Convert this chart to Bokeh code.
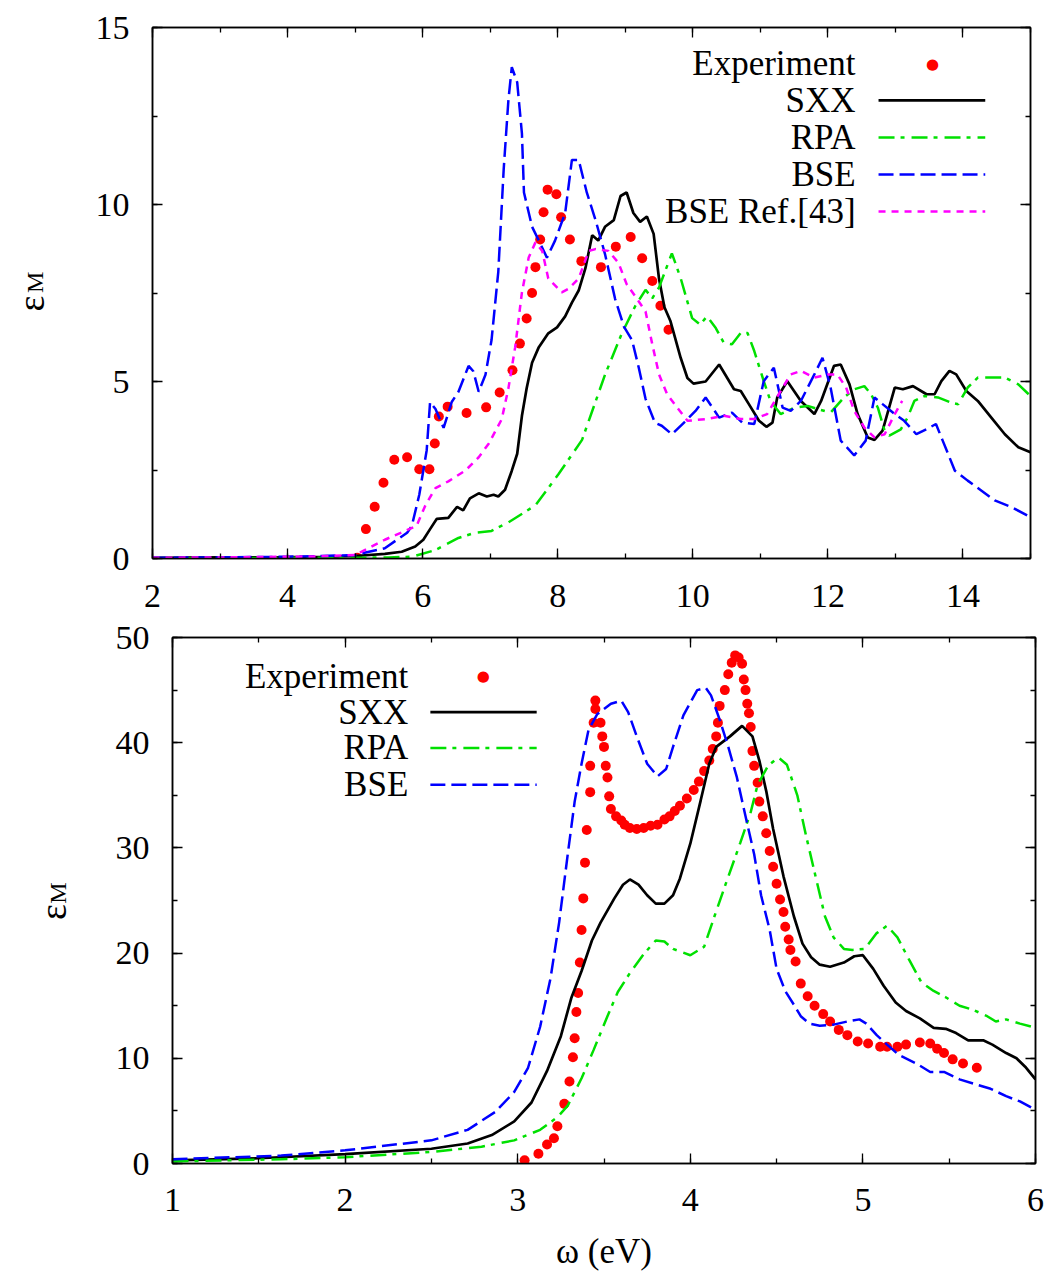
import math
from bokeh.plotting import figure
from bokeh.models import Label, Arrow, LinearAxis, SingleIntervalTicker, Range1d, CustomJSTickFormatter
from bokeh.embed import file_html
from bokeh.resources import INLINE

# ---------------- top panel data ----------------
top_exp_x = [5.03, 5.16, 5.29, 5.42, 5.58, 5.77, 5.95, 6.10, 6.18, 6.24, 6.37, 6.65, 6.94, 7.14, 7.33,
             7.44, 7.54, 7.62, 7.67, 7.74, 7.79, 7.85, 7.98, 8.05, 8.18, 8.35, 8.64, 8.86, 9.08, 9.25,
             9.40, 9.52, 9.64]
top_exp_y = [0.02, 0.83, 1.46, 2.14, 2.79, 2.86, 2.52, 2.52, 3.25, 4.01, 4.29, 4.11, 4.27, 4.69, 5.32,
             6.07, 6.78, 7.50, 8.23, 9.01, 9.78, 10.42, 10.29, 9.64, 9.01, 8.40, 8.23, 8.81, 9.08, 8.48,
             7.84, 7.14, 6.46]

top_sxx_x = [2.0, 3.0, 4.0, 4.5, 5.0, 5.44, 5.69, 5.89, 6.01, 6.11, 6.21, 6.38, 6.51, 6.6, 6.7, 6.83,
             6.95, 7.05, 7.12, 7.22, 7.32, 7.4, 7.47, 7.54, 7.62, 7.72, 7.86, 7.99, 8.11, 8.21, 8.31,
             8.41, 8.51, 8.6, 8.7, 8.83, 8.93, 9.02, 9.12, 9.22, 9.32, 9.42, 9.5, 9.58, 9.67, 9.82,
             9.92, 10.01, 10.19, 10.39, 10.61, 10.71, 10.83, 10.98, 11.09, 11.18, 11.25, 11.4, 11.6,
             11.8, 11.9, 12.09, 12.19, 12.32, 12.44, 12.59, 12.69, 12.81, 12.99, 13.11, 13.26, 13.46,
             13.58, 13.68, 13.8, 13.9, 14.05, 14.22, 14.42, 14.62, 14.82, 15.0]
top_sxx_y = [0.02, 0.03, 0.04, 0.05, 0.07, 0.13, 0.19, 0.34, 0.53, 0.83, 1.12, 1.15, 1.46, 1.36, 1.7,
             1.84, 1.75, 1.8, 1.75, 1.94, 2.48, 2.96, 4.03, 4.81, 5.53, 5.97, 6.36, 6.53, 6.84, 7.23,
             7.57, 8.2, 9.13, 8.98, 9.37, 9.56, 10.24, 10.34, 9.76, 9.51, 9.66, 9.17, 7.9, 7.1, 6.7,
             5.67, 5.1, 4.94, 5.0, 5.48, 4.78, 4.73, 4.36, 3.89, 3.72, 3.84, 4.55, 5.01, 4.45, 4.08,
             4.45, 5.44, 5.48, 4.92, 4.08, 3.42, 3.35, 3.61, 4.83, 4.78, 4.87, 4.64, 4.64, 5.01, 5.3,
             5.2, 4.73, 4.45, 3.98, 3.51, 3.14, 3.0]

top_rpa_x = [2.0, 3.0, 4.0, 5.0, 5.5, 5.84, 6.19, 6.53, 6.78, 7.02, 7.27, 7.67, 8.01, 8.36, 8.7, 8.95,
             9.15, 9.3, 9.4, 9.5, 9.69, 9.82, 9.99, 10.11, 10.21, 10.34, 10.46, 10.58, 10.71, 10.81,
             10.91, 11.05, 11.15, 11.3, 11.5, 11.7, 11.85, 12.04, 12.24, 12.39, 12.54, 12.64, 12.74,
             12.84, 12.91, 13.08, 13.18, 13.28, 13.43, 13.63, 13.83, 13.93, 14.07, 14.22, 14.42,
             14.62, 14.82, 15.0]
top_rpa_y = [0.01, 0.01, 0.02, 0.02, 0.03, 0.05, 0.24, 0.58, 0.73, 0.78, 1.02, 1.5, 2.38, 3.35, 5.19,
             6.36, 7.14, 7.59, 7.35, 7.66, 8.62, 7.92, 6.79, 6.61, 6.84, 6.51, 6.09, 6.05, 6.37, 6.37,
             5.86, 5.01, 4.45, 4.08, 4.26, 4.31, 4.22, 4.12, 4.55, 4.78, 4.87, 4.64, 4.26, 3.61, 3.47,
             3.65, 3.98, 4.45, 4.59, 4.55, 4.4, 4.36, 4.83, 5.11, 5.11, 5.11, 4.92, 4.59]

top_bse_x = [2.0, 3.0, 4.0, 4.5, 5.0, 5.44, 5.77, 5.84, 5.95, 6.06, 6.11, 6.19, 6.31, 6.43, 6.53, 6.68,
             6.75, 6.83, 6.93, 7.02, 7.12, 7.2, 7.27, 7.32, 7.4, 7.47, 7.5, 7.62, 7.72, 7.84, 7.96,
             8.11, 8.21, 8.31, 8.43, 8.56, 8.7, 8.85, 8.98, 9.1, 9.2, 9.3, 9.44, 9.54, 9.69, 9.87,
             10.04, 10.19, 10.39, 10.58, 10.73, 10.91, 11.05, 11.2, 11.33, 11.45, 11.6, 11.8, 11.92,
             12.04, 12.19, 12.39, 12.56, 12.69, 12.81, 12.99, 13.13, 13.31, 13.46, 13.6, 13.7, 13.88,
             14.07, 14.27, 14.47, 14.72, 15.0]
top_bse_y = [0.02, 0.03, 0.05, 0.07, 0.1, 0.29, 0.73, 0.92, 1.8, 3.06, 4.42, 4.22, 3.69, 4.42, 4.71,
             5.44, 5.29, 4.71, 5.19, 6.17, 8.1, 11.0, 12.96, 13.88, 13.45, 12.0, 10.34, 9.37, 8.98,
             8.5, 8.98, 9.76, 11.26, 11.26, 10.34, 9.56, 8.6, 7.33, 6.55, 6.17, 5.39, 4.51, 3.83,
             3.75, 3.51, 3.84, 4.17, 4.55, 3.98, 4.12, 3.84, 3.8, 5.01, 5.39, 4.26, 4.17, 4.45, 5.2,
             5.67, 4.83, 3.33, 2.91, 3.33, 4.55, 4.36, 4.08, 3.89, 3.51, 3.65, 3.8, 3.33, 2.48, 2.2,
             1.92, 1.64, 1.45, 1.17]

top_ref_x = [2.0, 3.0, 4.0, 4.5, 5.0, 5.44, 5.74, 5.91, 6.04, 6.19, 6.38, 6.63, 6.83, 6.98, 7.17, 7.27,
             7.37, 7.47, 7.57, 7.67, 7.77, 7.86, 8.06, 8.16, 8.31, 8.46, 8.56, 8.75, 8.9, 9.02, 9.15,
             9.3, 9.4, 9.5, 9.62, 9.77, 9.92, 10.21, 10.46, 10.71, 10.91, 11.1, 11.3, 11.45, 11.6,
             11.8, 12.0, 12.14, 12.27, 12.39, 12.54, 12.69, 12.84, 12.99, 13.1]
top_ref_y = [0.02, 0.03, 0.05, 0.06, 0.1, 0.53, 0.78, 0.92, 1.5, 1.99, 2.18, 2.48, 2.86, 3.25, 3.93,
             4.81, 5.97, 7.52, 8.5, 8.93, 8.69, 7.91, 7.52, 7.62, 7.91, 8.69, 8.74, 8.69, 8.35, 7.75,
             7.4, 6.98, 6.05, 5.2, 4.64, 4.26, 3.89, 3.94, 4.03, 3.94, 3.94, 4.08, 4.73, 5.2, 5.3,
             5.11, 5.2, 5.2, 4.83, 4.17, 3.7, 3.42, 3.51, 4.08, 4.45]

# ---------------- bottom panel data ----------------
bot_exp_x = [3.04, 3.12, 3.17, 3.21, 3.23, 3.27, 3.30, 3.32, 3.33, 3.34, 3.35, 3.36, 3.37, 3.38, 3.39,
             3.40, 3.42, 3.42, 3.44, 3.45, 3.45, 3.48, 3.49, 3.50, 3.51, 3.52, 3.53, 3.54, 3.57, 3.60,
             3.62, 3.65, 3.69, 3.73, 3.77, 3.81, 3.85, 3.88, 3.91, 3.94, 3.98, 4.02, 4.05, 4.08, 4.11,
             4.13, 4.15, 4.16, 4.17, 4.20, 4.22, 4.24, 4.26, 4.28, 4.30, 4.31, 4.32, 4.33, 4.34, 4.35,
             4.36, 4.37, 4.39, 4.40, 4.42, 4.44, 4.46, 4.48, 4.50, 4.52, 4.54, 4.55, 4.57, 4.58, 4.61,
             4.64, 4.68, 4.72, 4.77, 4.81, 4.86, 4.91, 4.97, 5.03, 5.10, 5.14, 5.20, 5.25, 5.33, 5.39,
             5.43, 5.47, 5.52, 5.58, 5.66]
bot_exp_y = [0.3, 0.92, 1.8, 2.4, 3.54, 5.67, 7.8, 10.1, 11.9, 14.4, 16.2, 19.1, 22.2, 25.2, 28.6,
             31.7, 35.3, 37.8, 41.9, 43.2, 44.0, 41.9, 40.6, 39.6, 37.8, 36.7, 34.9, 33.7, 33.0, 32.6,
             32.2, 31.9, 31.8, 31.9, 32.1, 32.2, 32.7, 33.0, 33.5, 34.0, 34.7, 35.5, 36.3, 37.3, 38.3,
             39.4, 40.6, 41.9, 43.5, 45.0, 46.5, 47.6, 48.3, 48.1, 47.5, 46.0, 45.0, 43.7, 42.8, 41.5,
             39.2, 37.8, 36.2, 34.4, 33.0, 31.4, 29.7, 28.2, 26.6, 25.1, 23.9, 22.5, 21.3, 20.3, 19.2,
             17.1, 15.9, 15.0, 14.2, 13.5, 12.7, 12.2, 11.6, 11.4, 11.1, 11.1, 11.1, 11.3, 11.5, 11.4,
             10.9, 10.5, 9.9, 9.5, 9.1]

bot_sxx_x = [1.0, 1.5, 2.0, 2.5, 2.71, 2.85, 2.98, 3.08, 3.17, 3.25, 3.31, 3.37, 3.43, 3.48, 3.56, 3.61,
             3.65, 3.70, 3.75, 3.80, 3.85, 3.90, 3.94, 4.0, 4.06, 4.11, 4.15, 4.23, 4.30, 4.36, 4.40,
             4.44, 4.48, 4.54, 4.60, 4.65, 4.70, 4.75, 4.81, 4.89, 4.95, 5.0, 5.06, 5.12, 5.19, 5.25,
             5.33, 5.41, 5.48, 5.54, 5.61, 5.70, 5.75, 5.83, 5.89, 5.94, 6.0]
bot_sxx_y = [0.3, 0.5, 0.9, 1.4, 1.9, 2.7, 4.0, 5.8, 8.8, 12.1, 15.7, 18.3, 21.2, 22.9, 25.2, 26.5,
             27.0, 26.5, 25.5, 24.7, 24.7, 25.5, 27.1, 30.4, 34.5, 38.0, 39.6, 40.6, 41.6, 40.6, 38.3,
             35.4, 31.8, 27.3, 23.5, 20.9, 19.6, 18.9, 18.7, 19.1, 19.7, 19.8, 18.5, 16.9, 15.3, 14.5,
             13.8, 12.9, 12.8, 12.4, 11.7, 11.7, 11.3, 10.5, 10.0, 9.2, 8.0]

bot_rpa_x = [1.0, 1.63, 2.0, 2.5, 2.79, 2.98, 3.13, 3.23, 3.29, 3.37, 3.44, 3.52, 3.58, 3.65, 3.73, 3.80,
             3.85, 3.90, 4.0, 4.08, 4.14, 4.21, 4.29, 4.35, 4.39, 4.45, 4.51, 4.56, 4.62, 4.67, 4.73,
             4.78, 4.83, 4.89, 4.94, 5.01, 5.08, 5.14, 5.20, 5.27, 5.34, 5.41, 5.48, 5.56, 5.64, 5.72,
             5.77, 5.83, 5.91, 6.0]
bot_rpa_y = [0.2, 0.4, 0.6, 1.1, 1.6, 2.2, 3.2, 4.4, 5.5, 8.1, 10.8, 14.0, 16.3, 18.1, 19.9, 21.2,
             21.1, 20.4, 19.8, 20.6, 23.5, 26.8, 30.5, 33.4, 36.0, 37.8, 38.6, 37.9, 35.0, 31.2, 27.0,
             23.5, 21.5, 20.4, 20.3, 20.4, 21.9, 22.6, 21.5, 19.3, 17.2, 16.4, 15.8, 15.0, 14.6, 14.0,
             13.5, 13.7, 13.3, 12.9]

bot_bse_x = [1.0, 1.63, 2.0, 2.5, 2.71, 2.87, 2.98, 3.06, 3.13, 3.19, 3.24, 3.29, 3.33, 3.37, 3.41, 3.46,
             3.54, 3.60, 3.64, 3.69, 3.75, 3.81, 3.86, 3.90, 3.96, 4.04, 4.09, 4.12, 4.17, 4.22, 4.27,
             4.32, 4.37, 4.41, 4.46, 4.50, 4.55, 4.60, 4.64, 4.69, 4.75, 4.83, 4.91, 4.98, 5.02, 5.08,
             5.14, 5.21, 5.31, 5.39, 5.47, 5.56, 5.64, 5.74, 5.83, 5.91, 6.0]
bot_bse_y = [0.4, 0.75, 1.25, 2.2, 3.2, 4.9, 6.8, 9.1, 13.0, 17.6, 22.9, 29.4, 34.4, 38.0, 41.2, 42.7,
             43.7, 44.0, 42.9, 40.6, 38.0, 36.8, 37.5, 39.6, 42.6, 45.0, 45.2, 44.5, 42.2, 39.6, 36.7,
             33.0, 29.4, 25.5, 22.2, 18.5, 16.4, 15.1, 14.0, 13.3, 13.1, 13.2, 13.5, 13.7, 13.3, 12.2,
             11.3, 10.3, 9.5, 8.7, 8.7, 8.0, 7.6, 7.1, 6.4, 5.9, 5.1]

top_labels = ["Experiment", "SXX", "RPA", "BSE", "BSE Ref.[43]"]
bot_labels = ["Experiment", "SXX", "RPA", "BSE"]

SERIF = "Liberation Serif"
RED, BLACK, GREEN, BLUE, MAGENTA = "#ff0000", "#000000", "#00e000", "#0000ff", "#ff00ff"
STYLES = {
    "SXX": dict(line_color=BLACK, line_width=2.7, line_dash="solid"),
    "RPA": dict(line_color=GREEN, line_width=2.5, line_dash="16 6 4 7"),
    "BSE": dict(line_color=BLUE, line_width=2.5, line_dash="15 6"),
    "BSE Ref.[43]": dict(line_color=MAGENTA, line_width=2.5, line_dash="7 6"),
}


def make_panel(xr, yr, xint, yint, fw, fh, bl, br, bt, bb, xstand):
    p = figure(x_range=Range1d(*xr), y_range=Range1d(*yr), frame_width=fw, frame_height=fh,
               min_border_left=bl, min_border_right=br, min_border_top=bt, min_border_bottom=bb,
               output_backend="svg", toolbar_location=None, background_fill_color="white",
               border_fill_color="white")
    p.xgrid.visible = False
    p.ygrid.visible = False
    p.outline_line_color = "black"
    p.outline_line_width = 1.5
    p.xaxis.ticker = SingleIntervalTicker(interval=xint, num_minor_ticks=2)
    p.yaxis.ticker = SingleIntervalTicker(interval=yint, num_minor_ticks=2)
    blank = CustomJSTickFormatter(code="return '';")
    p.add_layout(LinearAxis(ticker=SingleIntervalTicker(interval=xint, num_minor_ticks=2),
                            formatter=blank), "above")
    p.add_layout(LinearAxis(ticker=SingleIntervalTicker(interval=yint, num_minor_ticks=2),
                            formatter=blank), "right")
    for ax in p.axis:
        ax.major_tick_in = 10
        ax.major_tick_out = 0
        ax.minor_tick_in = 5
        ax.minor_tick_out = 0
        ax.axis_line_color = "black"
        ax.axis_line_width = 1.5
        ax.major_tick_line_width = 1.3
        ax.minor_tick_line_width = 1.3
        ax.major_label_text_font = SERIF
        ax.major_label_text_font_size = "34px"
        ax.major_label_text_color = "black"
    p.below[0].major_label_standoff = xstand
    p.left[0].major_label_standoff = 23
    for ax in p.above + p.right:
        ax.major_label_text_font_size = "0px"
        ax.major_label_standoff = 0
    return p


def add_legend(p, labels, text_x, sample_x0, sample_x1, dot_x, rows):
    for lab, yrow in zip(labels, rows):
        p.add_layout(Label(x=text_x, y=yrow, text=lab, text_align="right", text_baseline="middle",
                           text_font=SERIF, text_font_size="35px", text_color="black"))
        if lab == "Experiment":
            p.add_layout(Label(x=dot_x, y=yrow, text="\u25cf", text_align="center",
                               text_baseline="middle", text_font="DejaVu Sans",
                               text_font_size="15px", text_color=RED))
        else:
            st = STYLES[lab]
            p.add_layout(Arrow(end=None, x_start=sample_x0, y_start=yrow, x_end=sample_x1, y_end=yrow,
                               line_color=st["line_color"], line_width=st["line_width"],
                               line_dash=st["line_dash"]))


def add_ylabel(p, x, y_eps, y_m, dx_eps, dx_m):
    p.add_layout(Label(x=x, y=y_eps, x_offset=dx_eps, text="\u03b5", angle=math.pi / 2,
                       text_align="center", text_baseline="middle", text_font=SERIF,
                       text_font_size="38px", text_color="black"), "left")
    p.add_layout(Label(x=x, y=y_m, x_offset=dx_m, text="M", angle=math.pi / 2,
                       text_align="center", text_baseline="middle", text_font=SERIF,
                       text_font_size="24px", text_color="black"), "left")


# ---------------- top figure ----------------
p1 = make_panel((2, 15), (0, 15), 2, 5, 878, 531, 152, 15, 27, 54, 26)
p1.scatter(top_exp_x, top_exp_y, size=10, color=RED, line_color=None)
p1.line(top_sxx_x, top_sxx_y, **STYLES["SXX"])
p1.line(top_rpa_x, top_rpa_y, **STYLES["RPA"])
p1.line(top_bse_x, top_bse_y, **STYLES["BSE"])
p1.line(top_ref_x, top_ref_y, **STYLES["BSE Ref.[43]"])
add_legend(p1, top_labels, 12.41, 12.75, 14.33, 13.55, [13.98, 12.94, 11.89, 10.85, 9.80])
add_ylabel(p1, 2, 7.2, 7.8, -122, -118)

# ---------------- bottom figure ----------------
p2 = make_panel((1, 6), (0, 50), 1, 10, 863, 526, 172, 10, 25, 103, 25)
xl = p2.below[0]
xl.axis_label = "\u03c9 (eV)"
xl.axis_label_text_font = SERIF
xl.axis_label_text_font_size = "35px"
xl.axis_label_text_font_style = "normal"
xl.axis_label_text_color = "black"
xl.axis_label_standoff = 18
p2.scatter(bot_exp_x, bot_exp_y, size=10, color=RED, line_color=None)
p2.line(bot_sxx_x, bot_sxx_y, **STYLES["SXX"])
p2.line(bot_rpa_x, bot_rpa_y, **STYLES["RPA"])
p2.line(bot_bse_x, bot_bse_y, **STYLES["BSE"])
add_legend(p2, bot_labels, 2.366, 2.494, 3.11, 2.80, [46.3, 42.9, 39.5, 36.0])
add_ylabel(p2, 1, 23.9, 25.7, -120, -115)

open("out.html", "w").write(file_html([p1, p2], INLINE))
